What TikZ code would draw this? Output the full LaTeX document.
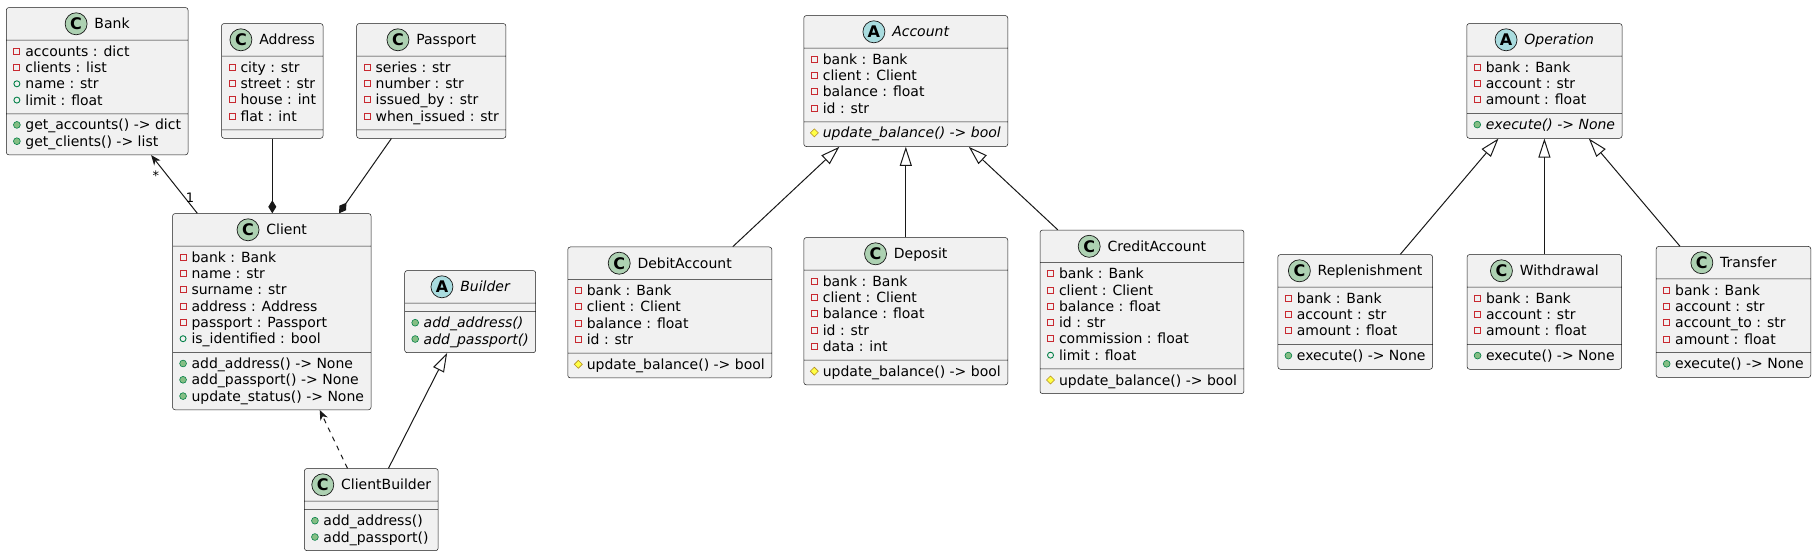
\documentclass[tikz,border=0pt]{standalone}
\usepackage{fontspec}
\setmainfont{DejaVu Sans}
\usetikzlibrary{arrows.meta,shapes.multipart}

\definecolor{umlline}{HTML}{181818}
\definecolor{umlfill}{HTML}{F1F1F1}
\definecolor{classgreen}{HTML}{ADD1B2}
\definecolor{abstractblue}{HTML}{A9DCDF}
\definecolor{privred}{HTML}{C82930}
\definecolor{pubgreen}{HTML}{038048}
\definecolor{pubfill}{HTML}{84BE84}
\definecolor{protfill}{HTML}{FFFF44}
\definecolor{protdraw}{HTML}{B38D22}

\renewcommand{\arraystretch}{0}
\newcommand{\umlfont}{\fontsize{14pt}{16.3pt}\selectfont}
\newcommand{\umlstrut}{\rule[-4.4pt]{0pt}{16.3pt}}
\newcommand{\headstrut}{\rule[-7pt]{0pt}{24pt}}
\newcommand{\nomembers}{\hspace*{0.1pt}\rule{0pt}{0.01pt}}

% visibility marks
\newcommand{\markbox}[1]{\tikz[baseline=-5pt,sharp corners]{\useasboundingbox (-3.5pt,-3.5pt) rectangle (3.5pt,3.5pt); #1}}
\newcommand{\mpriv}{\markbox{\draw[privred, line width=0.9pt] (-3pt,-3pt) rectangle (3pt,3pt);}}
\newcommand{\mpubf}{\markbox{\draw[pubgreen, line width=0.9pt] (0pt,0pt) circle (3pt);}}
\newcommand{\mpubm}{\markbox{\draw[pubgreen, fill=pubfill, line width=0.6pt] (0pt,0pt) circle (3.4pt);}}
\newcommand{\mprot}{\markbox{\draw[protdraw, fill=protfill, line width=0.6pt] (0pt,4pt) -- (4pt,0pt) -- (0pt,-4pt) -- (-4pt,0pt) -- cycle;}}
\newcommand{\umlrow}[2]{\umlstrut#1\hspace{5pt}#2}
\newcommand{\umlrows}[1]{\begin{tabular}{@{}l@{}}#1\end{tabular}}
\newcommand{\umlhead}[4]{\headstrut\tikz[baseline=-5pt]\node[classmark, fill=#2] (#1) {#3};\hspace{7pt}#4}

\tikzset{
  umlclass/.style={rectangle split, rectangle split parts=3,
    rectangle split part align={center,left,left},
    rectangle split empty part height=0pt, rectangle split empty part depth=0pt,
    rectangle split empty part width=0pt,
    draw=umlline, line width=0.5pt, fill=umlfill, rounded corners=2.5pt,
    inner xsep=7pt, inner ysep=4pt, anchor=north, font=\umlfont},
  classmark/.style={circle, anchor=center, draw=umlline, line width=0.7pt, minimum size=22pt,
    inner sep=0pt, font=\fontsize{16pt}{16pt}\selectfont\bfseries},
  assoc/.style={-{Stealth[length=10pt,width=8pt,inset=3pt]}, draw=umlline, line width=1pt},
  depend/.style={assoc, dash pattern=on 5pt off 5pt},
  compose/.style={-{Diamond[length=13pt,width=8pt]}, draw=umlline, line width=1pt},
  extends/.style={-{Triangle[open,length=19pt,width=12pt]}, draw=umlline, line width=1pt},
  multlabel/.style={inner sep=0pt, font=\fontsize{13pt}{13pt}\selectfont}
}

\begin{document}
\begin{tikzpicture}[x=1pt,y=-1pt]
    \useasboundingbox (0,0) rectangle (1816,554);

    % client side
    \node[umlclass, minimum width=179.7pt] (bank) at (97.2,7.3) {\umlhead{bank-icon}{classgreen}{C}{Bank}
        \nodepart{two}\umlrows{\umlrow\mpriv{accounts : dict}\\\umlrow\mpriv{clients : list}\\\umlrow\mpubf{name : str}\\\umlrow\mpubf{limit : float}}
        \nodepart{three}\umlrows{\umlrow\mpubm{get\_accounts() -> dict}\\\umlrow\mpubm{get\_clients() -> list}}};
    \node[umlclass, minimum width=99.3pt] (address) at (272.3,23.3) {\umlhead{address-icon}{classgreen}{C}{Address}
        \nodepart{two}\umlrows{\umlrow\mpriv{city : str}\\\umlrow\mpriv{street : str}\\\umlrow\mpriv{house : int}\\\umlrow\mpriv{flat : int}}
        \nodepart{three}\nomembers};
    \node[umlclass, minimum width=148pt] (passport) at (431.3,23.3) {\umlhead{passport-icon}{classgreen}{C}{Passport}
        \nodepart{two}\umlrows{\umlrow\mpriv{series : str}\\\umlrow\mpriv{number : str}\\\umlrow\mpriv{issued\_by : str}\\\umlrow\mpriv{when\_issued : str}}
        \nodepart{three}\nomembers};
    \node[umlclass, minimum width=197pt] (client) at (271.8,213.3) {\umlhead{client-icon}{classgreen}{C}{Client}
        \nodepart{two}\umlrows{\umlrow\mpriv{bank : Bank}\\\umlrow\mpriv{name : str}\\\umlrow\mpriv{surname : str}\\\umlrow\mpriv{address : Address}\\\umlrow\mpriv{passport : Passport}\\\umlrow\mpubf{is\_identified : bool}}
        \nodepart{three}\umlrows{\umlrow\mpubm{add\_address() -> None}\\\umlrow\mpubm{add\_passport() -> None}\\\umlrow\mpubm{update\_status() -> None}}};
    \node[umlclass, minimum width=127.7pt] (builder) at (470.2,270.3) {\umlhead{builder-icon}{abstractblue}{A}{\itshape Builder}
        \nodepart{two}\nomembers
        \nodepart{three}\umlrows{\umlrow\mpubm{\itshape add\_address()}\\\umlrow\mpubm{\itshape add\_passport()}}};
    \node[umlclass, minimum width=129.3pt] (clientbuilder) at (371.3,468.3) {\umlhead{clientbuilder-icon}{classgreen}{C}{ClientBuilder}
        \nodepart{two}\nomembers
        \nodepart{three}\umlrows{\umlrow\mpubm{add\_address()}\\\umlrow\mpubm{add\_passport()}}};

    % accounts
    \node[umlclass, minimum width=200.5pt] (account) at (905.8,15.3) {\umlhead{account-icon}{abstractblue}{A}{\itshape Account}
        \nodepart{two}\umlrows{\umlrow\mpriv{bank : Bank}\\\umlrow\mpriv{client : Client}\\\umlrow\mpriv{balance : float}\\\umlrow\mpriv{id : str}}
        \nodepart{three}\umlrows{\umlrow\mprot{\itshape update\_balance() -> bool}}};
    \node[umlclass, minimum width=200pt] (debitaccount) at (669.8,246.7) {\umlhead{debitaccount-icon}{classgreen}{C}{DebitAccount}
        \nodepart{two}\umlrows{\umlrow\mpriv{bank : Bank}\\\umlrow\mpriv{client : Client}\\\umlrow\mpriv{balance : float}\\\umlrow\mpriv{id : str}}
        \nodepart{three}\umlrows{\umlrow\mprot{update\_balance() -> bool}}};
    \node[umlclass, minimum width=200.5pt] (deposit) at (905.8,237.3) {\umlhead{deposit-icon}{classgreen}{C}{Deposit}
        \nodepart{two}\umlrows{\umlrow\mpriv{bank : Bank}\\\umlrow\mpriv{client : Client}\\\umlrow\mpriv{balance : float}\\\umlrow\mpriv{id : str}\\\umlrow\mpriv{data : int}}
        \nodepart{three}\umlrows{\umlrow\mprot{update\_balance() -> bool}}};
    \node[umlclass, minimum width=200.5pt] (creditaccount) at (1142,229.8) {\umlhead{creditaccount-icon}{classgreen}{C}{CreditAccount}
        \nodepart{two}\umlrows{\umlrow\mpriv{bank : Bank}\\\umlrow\mpriv{client : Client}\\\umlrow\mpriv{balance : float}\\\umlrow\mpriv{id : str}\\\umlrow\mpriv{commission : float}\\\umlrow\mpubf{limit : float}}
        \nodepart{three}\umlrows{\umlrow\mprot{update\_balance() -> bool}}};

    % operations
    \node[umlclass, minimum width=155.3pt] (operation) at (1544.4,23.3) {\umlhead{operation-icon}{abstractblue}{A}{\itshape Operation}
        \nodepart{two}\umlrows{\umlrow\mpriv{bank : Bank}\\\umlrow\mpriv{account : str}\\\umlrow\mpriv{amount : float}}
        \nodepart{three}\umlrows{\umlrow\mpubm{\itshape execute() -> None}}};
    \node[umlclass, minimum width=153.6pt] (replenishment) at (1355.2,254.3) {\umlhead{replenishment-icon}{classgreen}{C}{Replenishment}
        \nodepart{two}\umlrows{\umlrow\mpriv{bank : Bank}\\\umlrow\mpriv{account : str}\\\umlrow\mpriv{amount : float}}
        \nodepart{three}\umlrows{\umlrow\mpubm{execute() -> None}}};
    \node[umlclass, minimum width=153.6pt] (withdrawal) at (1544.4,254.3) {\umlhead{withdrawal-icon}{classgreen}{C}{Withdrawal}
        \nodepart{two}\umlrows{\umlrow\mpriv{bank : Bank}\\\umlrow\mpriv{account : str}\\\umlrow\mpriv{amount : float}}
        \nodepart{three}\umlrows{\umlrow\mpubm{execute() -> None}}};
    \node[umlclass, minimum width=153.6pt] (transfer) at (1733.5,246.2) {\umlhead{transfer-icon}{classgreen}{C}{Transfer}
        \nodepart{two}\umlrows{\umlrow\mpriv{bank : Bank}\\\umlrow\mpriv{account : str}\\\umlrow\mpriv{account\_to : str}\\\umlrow\mpriv{amount : float}}
        \nodepart{three}\umlrows{\umlrow\mpubm{execute() -> None}}};

    \draw[assoc] ([xshift=25pt]client.north west) -- node[multlabel, pos=0.26, anchor=west] (client-mult) {1}
        node[multlabel, pos=0.73, anchor=north east, xshift=-4pt] (bank-mult) {*} ([xshift=145pt]bank.south west);
    \draw[compose] (address.south) -- (address.south |- client.north);
    \draw[compose] ([xshift=35pt]passport.south west) -- ([xshift=166.7pt]client.north west);
    \draw[depend] ([xshift=43.3pt]clientbuilder.north west) -- ([xshift=147.4pt]client.south west);
    \draw[extends] ([xshift=84.3pt]clientbuilder.north west) -- ([xshift=42.7pt]builder.south west);

    \draw[extends] ([xshift=165.2pt]debitaccount.north west) -- ([xshift=35.8pt]account.south west);
    \draw[extends] (deposit.north) -- (deposit.north |- account.south);
    \draw[extends] ([xshift=18pt]creditaccount.north west) -- ([xshift=165.2pt]account.south west);

    \draw[extends] ([xshift=122.7pt]replenishment.north west) -- ([xshift=32pt]operation.south west);
    \draw[extends] (withdrawal.north) -- (withdrawal.north |- operation.south);
    \draw[extends] ([xshift=24pt]transfer.north west) -- ([xshift=122.3pt]operation.south west);

\end{tikzpicture}
\end{document}
